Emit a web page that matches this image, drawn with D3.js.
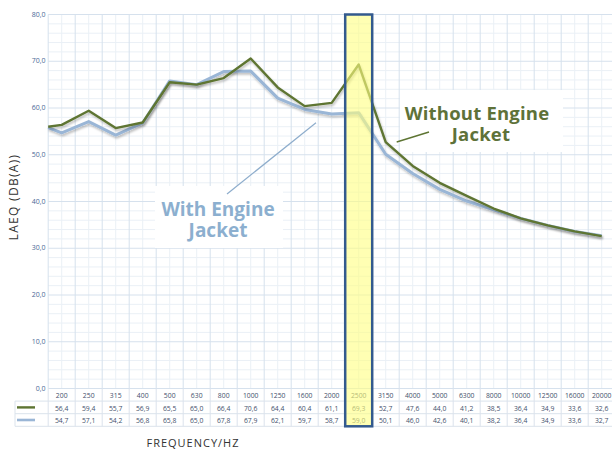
<!DOCTYPE html>
<html>
<head>
<meta charset="utf-8">
<script src="https://cdn.jsdelivr.net/npm/d3@7"></script>
<style>
  body { margin: 0; background: #fff; }
  svg { display: block; font-family: 'Open Sans', sans-serif; }
</style>
</head>
<body>
<div id="chart"></div>
<script>
// #region Data
const frequencies = ['200', '250', '315', '400', '500', '630', '800', '1000', '1250', '1600', '2000',
  '2500', '3150', '4000', '5000', '6300', '8000', '10000', '12500', '16000', '20000'];
const withoutJacket = [56.4, 59.4, 55.7, 56.9, 65.5, 65.0, 66.4, 70.6, 64.4, 60.4, 61.1,
  69.3, 52.7, 47.6, 44.0, 41.2, 38.5, 36.4, 34.9, 33.6, 32.6];
const withJacket = [54.7, 57.1, 54.2, 56.8, 65.8, 65.0, 67.8, 67.9, 62.1, 59.7, 58.7,
  59.0, 50.1, 46.0, 42.6, 40.1, 38.2, 36.4, 34.9, 33.6, 32.7];
// value where each line enters at the left edge of the plot
const leadIn = [56.0, 55.8];
const yTicks = [0, 10, 20, 30, 40, 50, 60, 70, 80];
const highlighted = '2500';
// #endregion

const width = 612;
const height = 450;
const margin = { left: 48.2, top: 14.5, bottom: 388.5 };
const rowH = 12.6;

const svg = d3.select('#chart').append('svg')
  .attr('width', width)
  .attr('height', height);

const defs = svg.append('defs');
defs.append('filter')
  .attr('id', 'shadow')
  .attr('x', '-5%').attr('y', '-20%').attr('width', '110%').attr('height', '140%')
  .append('feDropShadow')
  .attr('dx', 1).attr('dy', 2).attr('stdDeviation', 1.3)
  .attr('flood-color', '#000').attr('flood-opacity', 0.25);

// #region Scales
const x = d3.scaleBand()
  .domain(frequencies)
  .range([margin.left, margin.left + 27 * frequencies.length]);
const y = d3.scaleLinear().domain([0, 80]).range([margin.bottom, margin.top]);
const comma = d3.formatLocale({ decimal: ',', thousands: '.', grouping: [3], currency: ['', ''] }).format('.1f');
const xRight = x.range()[1];
// #endregion

// #region Grid
const grid = svg.append('g');
grid.selectAll('.minor-h')
  .data(d3.range(0, 80, 2).filter(v => v % 10 !== 0))
  .join('line')
  .attr('x1', margin.left).attr('x2', xRight)
  .attr('y1', d => y(d)).attr('y2', d => y(d))
  .attr('stroke', '#eaf0f6').attr('stroke-width', 1);
grid.selectAll('.minor-v')
  .data(frequencies)
  .join('line')
  .attr('x1', d => x(d) + x.bandwidth() / 2).attr('x2', d => x(d) + x.bandwidth() / 2)
  .attr('y1', margin.top).attr('y2', margin.bottom)
  .attr('stroke', '#eaf0f6').attr('stroke-width', 1);
grid.selectAll('.major-h')
  .data(yTicks)
  .join('line')
  .attr('x1', margin.left).attr('x2', xRight)
  .attr('y1', d => y(d)).attr('y2', d => y(d))
  .attr('stroke', '#d6e1ed').attr('stroke-width', 1);
grid.selectAll('.major-v')
  .data(frequencies)
  .join('line')
  .attr('x1', d => x(d)).attr('x2', d => x(d))
  .attr('y1', margin.top).attr('y2', margin.bottom)
  .attr('stroke', '#d6e1ed').attr('stroke-width', 1);
// #endregion

// #region Y axis labels
svg.append('g').selectAll('text')
  .data(yTicks)
  .join('text')
  .attr('x', 45.5)
  .attr('y', d => y(d))
  .attr('dy', '0.32em')
  .attr('text-anchor', 'end')
  .attr('fill', '#4a6896')
  .style('font-size', '7px')
  .text(d => comma(d));

svg.append('text')
  .attr('transform', 'translate(17.5, 197) rotate(-90)')
  .attr('text-anchor', 'middle')
  .attr('fill', '#333')
  .style('font-size', '12px')
  .style('letter-spacing', '1.3px')
  .text('LAEQ (DB(A))');
// #endregion

// #region Annotation boxes
svg.append('rect')
  .attr('x', 400).attr('y', 90).attr('width', 163).attr('height', 62)
  .attr('fill', '#fff');
svg.append('rect')
  .attr('x', 155).attr('y', 186).attr('width', 128).attr('height', 62)
  .attr('fill', '#fff');
// #endregion

// #region Lines
const series = [
  { values: withJacket, start: leadIn[1], color: '#9ab6d6', width: 3 },
  { values: withoutJacket, start: leadIn[0], color: '#5e7533', width: 2.4 },
];
const line = d3.line().x(d => d[0]).y(d => y(d[1]));
series.forEach(s => {
  const pts = [[margin.left, s.start]]
    .concat(s.values.map((v, i) => [x(frequencies[i]) + x.bandwidth() / 2, v]));
  svg.append('path')
    .attr('d', line(pts))
    .attr('fill', 'none')
    .attr('stroke', s.color)
    .attr('stroke-width', s.width)
    .attr('stroke-linejoin', 'round')
    .attr('filter', 'url(#shadow)');
});
// #endregion

// #region Data table
const table = svg.append('g');
const tTop = margin.bottom;
const tBottom = tTop + rowH * 3;
table.selectAll('.row-line')
  .data([1, 2, 3])
  .join('line')
  .attr('x1', 15).attr('x2', xRight)
  .attr('y1', d => tTop + rowH * d).attr('y2', d => tTop + rowH * d)
  .attr('stroke', '#dbe3ec');
table.selectAll('.col-line')
  .data(frequencies)
  .join('line')
  .attr('x1', d => x(d)).attr('x2', d => x(d))
  .attr('y1', tTop).attr('y2', tBottom)
  .attr('stroke', '#dbe3ec');
table.append('line')
  .attr('x1', 15).attr('x2', 15)
  .attr('y1', tTop + rowH).attr('y2', tBottom)
  .attr('stroke', '#dbe3ec');

const rows = [frequencies, withoutJacket.map(comma), withJacket.map(comma)];
rows.forEach((vals, r) => {
  table.append('g').selectAll('text')
    .data(vals)
    .join('text')
    .attr('x', (d, i) => x(frequencies[i]) + x.bandwidth() / 2)
    .attr('y', tTop + rowH * r + rowH / 2 + 1)
    .attr('dy', '0.32em')
    .attr('text-anchor', 'middle')
    .attr('fill', '#44506c')
    .style('font-size', '6.8px')
    .text(d => d);
});

// legend keys
[['#5e7533', 2.4], ['#9ab6d6', 2.6]].forEach(([c, w], i) => {
  table.append('line')
    .attr('x1', 17).attr('x2', 35)
    .attr('y1', tTop + rowH * (i + 1) + rowH / 2).attr('y2', tTop + rowH * (i + 1) + rowH / 2)
    .attr('stroke', c).attr('stroke-width', w);
});

svg.append('text')
  .attr('x', 193).attr('y', 447)
  .attr('text-anchor', 'middle')
  .attr('fill', '#333')
  .style('font-size', '11px')
  .style('letter-spacing', '1px')
  .text('FREQUENCY/HZ');
// #endregion

// #region Highlight column
svg.append('rect')
  .attr('x', x(highlighted))
  .attr('y', margin.top)
  .attr('width', x.bandwidth())
  .attr('height', tBottom - margin.top)
  .attr('fill', '#ffff80')
  .attr('fill-opacity', 0.6)
  .attr('stroke', '#335a8e')
  .attr('stroke-width', 2.5);
// #endregion

// #region Annotation text
svg.append('line')
  .attr('x1', 396.7).attr('y1', 142).attr('x2', 429).attr('y2', 132)
  .attr('stroke', '#5e7533').attr('stroke-width', 1.4);
svg.append('line')
  .attr('x1', 227).attr('y1', 194).attr('x2', 316).attr('y2', 122.7)
  .attr('stroke', '#8eadcc').attr('stroke-width', 1.2);

const noteWithout = svg.append('text')
  .attr('text-anchor', 'middle')
  .attr('fill', '#5e7239')
  .style('font-size', '18.5px')
  .style('font-weight', 'bold')
  .style('letter-spacing', '0.2px');
noteWithout.append('tspan').attr('x', 477).attr('y', 120).text('Without Engine');
noteWithout.append('tspan').attr('x', 481).attr('y', 141).text('Jacket');

const noteWith = svg.append('text')
  .attr('text-anchor', 'middle')
  .attr('fill', '#8cafcf')
  .style('font-size', '19px')
  .style('font-weight', 'bold');
noteWith.append('tspan').attr('x', 218).attr('y', 216).text('With Engine');
noteWith.append('tspan').attr('x', 218).attr('y', 237).text('Jacket');
// #endregion
</script>
</body>
</html>
